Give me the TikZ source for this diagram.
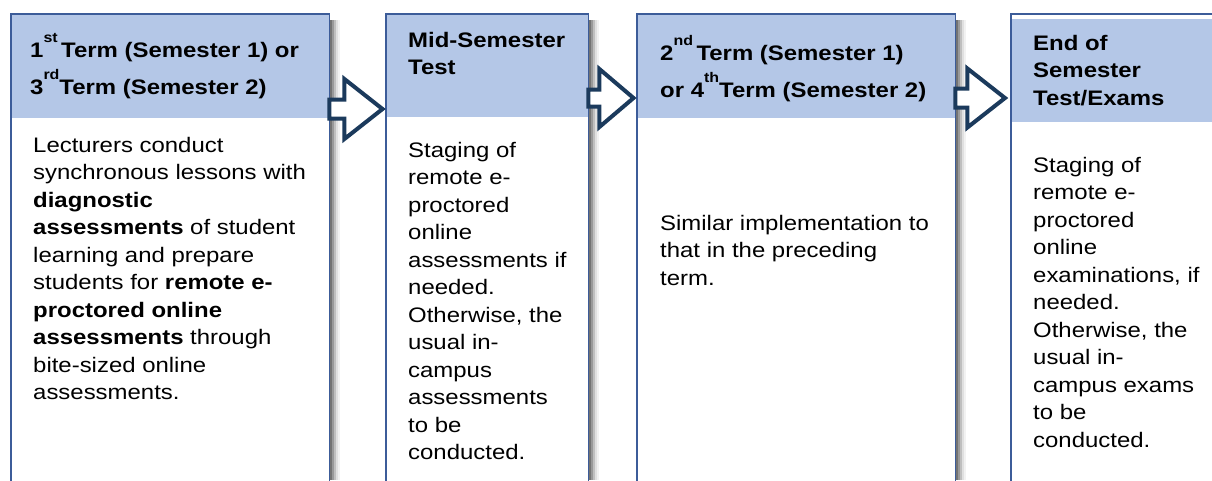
\documentclass[tikz,border=0pt]{standalone}
\usepackage{fontspec}
\setmainfont{Liberation Sans}[FakeStretch=1.14]
\usetikzlibrary{calc}
\definecolor{hdrblue}{HTML}{B4C7E7}
\definecolor{bordblue}{HTML}{3C5C99}
\definecolor{arrblue}{HTML}{1B3A5C}
\newcommand{\supx}[1]{\smash{\raisebox{15pt}{\fontsize{14}{14}\selectfont #1}}}
\newcommand{\blockarrow}[7]{%
  \coordinate (#1-out) at ($(#1.north east)+(0,#3)$);
  \coordinate (#2-in) at ($(#2.north west)+(-#7,#3)$);
  \draw[blk] ($(#1-out)+(0,-#5)$) -- ($(#1-out)+(#4,-#5)$) -- ($(#1-out)+(#4,-#6)$)
    -- (#2-in) -- ($(#1-out)+(#4,#6)$) -- ($(#1-out)+(#4,#5)$) -- ($(#1-out)+(0,#5)$) -- cycle;}
\begin{document}
\begin{tikzpicture}[x=1pt,y=-1pt,
  box/.style={draw=none, fill=white, minimum height=480pt, inner sep=0pt, anchor=north west},
  hdr/.style={fill=hdrblue, draw=none, inner sep=0pt, anchor=north west},
  frame/.style={draw=bordblue, line width=1.8pt},
  htext/.style={font=\bfseries\fontsize{21}{37}\selectfont, align=left, anchor=north west, inner sep=0pt},
  htextb/.style={font=\bfseries\fontsize{21}{27.5}\selectfont, align=left, anchor=north west, inner sep=0pt},
  btext/.style={font=\fontsize{21}{27.5}\selectfont, align=left, anchor=north west, inner sep=0pt},
  blk/.style={draw=arrblue, line width=4pt, fill=white, line join=miter}
]
\useasboundingbox (0,0) rectangle (1212,480);
\clip (0,0) rectangle (1212,480);
\fill[white] (0,0) rectangle (1212,480);

% shadows (graded strips), drawn first
\fill[black!55] (330,20) rectangle (332,480);
\fill[black!40] (332,20) rectangle (334,480);
\fill[black!25] (334,20) rectangle (336,480);
\fill[black!12] (336,20) rectangle (338,480);
\fill[black!5]  (338,20) rectangle (340,480);

\fill[black!55] (589,20) rectangle (591,480);
\fill[black!40] (591,20) rectangle (593,480);
\fill[black!25] (593,20) rectangle (595,480);
\fill[black!12] (595,20) rectangle (597,480);
\fill[black!5]  (597,20) rectangle (599,480);

\fill[black!55] (956,20) rectangle (958,480);
\fill[black!40] (958,20) rectangle (960,480);
\fill[black!25] (960,20) rectangle (962,480);
\fill[black!12] (962,20) rectangle (964,480);
\fill[black!5]  (964,20) rectangle (966,480);

% boxes
\node[box, minimum width=318pt] (b1) at (11,14) {};
\node[box, minimum width=202pt] (b2) at (386,14) {};
\node[box, minimum width=318pt] (b3) at (637,14) {};
\node[box, minimum width=230pt] (b4) at (1011,14) {};

% headers
\node[hdr, minimum width=318pt, minimum height=104pt] (h1) at (b1.north west) {};
\node[hdr, minimum width=202pt, minimum height=103pt] (h2) at (b2.north west) {};
\node[hdr, minimum width=318pt, minimum height=104pt] (h3) at (b3.north west) {};
\node[hdr, minimum width=230pt, minimum height=103pt] (h4) at ($(b4.north west)+(0,5)$) {};

% frames
\foreach \b in {b1,b2,b3,b4}{
  \draw[frame] (\b.south west) |- (\b.north east) -- (\b.south east);
}

% block arrows
\blockarrow{b1}{b2}{95}{15}{9.5}{30}{3.5}
\blockarrow{b2}{b3}{84}{11}{8.5}{29}{3.5}
\blockarrow{b3}{b4}{84}{12}{9.5}{29.5}{6}

% header texts
\node[htext] (t1) at ($(b1.north west)+(19,28)$) {1\supx{st}\,Term (Semester 1) or\\3\supx{rd}Term (Semester 2)};
\node[htextb] (t2) at ($(b2.north west)+(22,18)$) {Mid-Semester\\Test};
\node[htext] (t3) at ($(b3.north west)+(23,31)$) {2\supx{nd}\,Term (Semester 1)\\or 4\supx{th}Term (Semester 2)};
\node[htextb] (t4) at ($(b4.north west)+(22,21)$) {End of\\Semester\\Test/Exams};

% body texts
\node[btext] (d1) at ($(b1.north west)+(22,123)$) {Lecturers conduct\\synchronous lessons with\\\textbf{diagnostic}\\\textbf{assessments} of student\\learning and prepare\\students for \textbf{remote e-}\\\textbf{proctored online}\\\textbf{assessments} through\\bite-sized online\\assessments.};
\node[btext] (d2) at ($(b2.north west)+(22,128)$) {Staging of\\remote e-\\proctored\\online\\assessments if\\needed.\\Otherwise, the\\usual in-\\campus\\assessments\\to be\\conducted.};
\node[btext] (d3) at ($(b3.north west)+(23,201)$) {Similar implementation to\\that in the preceding\\term.};
\node[btext] (d4) at ($(b4.north west)+(22,143)$) {Staging of\\remote e-\\proctored\\online\\examinations, if\\needed.\\Otherwise, the\\usual in-\\campus exams\\to be\\conducted.};
\end{tikzpicture}
\end{document}
